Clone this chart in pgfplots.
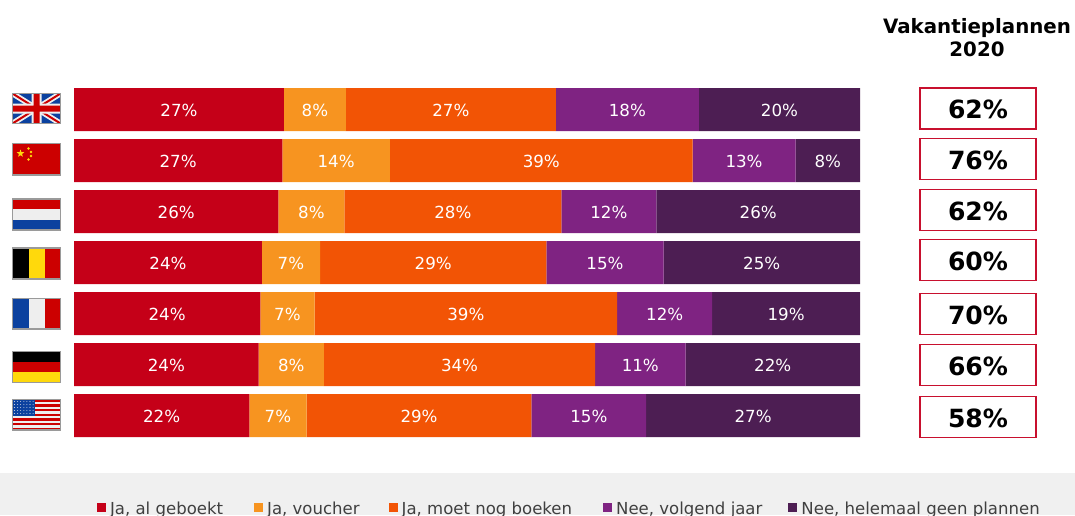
\documentclass[border=0pt]{standalone}
\usepackage{pgfplots}
\usepackage{pgfplotstable}
\pgfplotsset{compat=1.18}
\usepackage{fontspec}
\setmainfont{DejaVu Sans}
\usetikzlibrary{shapes.geometric}
\definecolor{cA}{HTML}{C50018}
\definecolor{cB}{HTML}{F79420}
\definecolor{cC}{HTML}{F25405}
\definecolor{cD}{HTML}{7F2382}
\definecolor{cE}{HTML}{4D1E53}
\definecolor{band}{HTML}{F0F0F0}
\definecolor{flagred}{HTML}{CC0000}
\definecolor{flagblue}{HTML}{0B419F}
\definecolor{flaggrey}{HTML}{9A9A9A}
\definecolor{flagwhite}{HTML}{EEEEEE}
\definecolor{flagyellow}{HTML}{FFD90C}
\definecolor{boxred}{HTML}{C8102E}
\pgfplotstableread{
y v
6 26.7
5 26.5
4 26.0
3 23.9
2 23.7
1 23.5
0 22.3
}\sA
\pgfplotstableread{
y v
6 7.9
5 13.7
4 8.4
3 7.4
2 6.9
1 8.3
0 7.3
}\sB
\pgfplotstableread{
y v
6 26.7
5 38.5
4 27.6
3 28.8
2 38.5
1 34.5
0 28.6
}\sC
\pgfplotstableread{
y v
6 18.2
5 13.1
4 12.1
3 14.9
2 12.1
1 11.5
0 14.6
}\sD
\pgfplotstableread{
y v
6 20.5
5 8.2
4 25.9
3 25.0
2 18.8
1 22.2
0 27.2
}\sE
\pgfplotstableread{
c y l
13.35 6 27
30.65 6 8
47.95 6 27
70.40 6 18
89.75 6 20
13.25 5 27
33.35 5 14
59.45 5 39
85.25 5 13
95.90 5 8
13.00 4 26
30.20 4 8
48.20 4 28
68.05 4 12
87.05 4 26
11.95 3 24
27.60 3 7
45.70 3 29
67.55 3 15
87.50 3 25
11.85 2 24
27.15 2 7
49.85 2 39
75.15 2 12
90.60 2 19
11.75 1 24
27.65 1 8
49.05 1 34
72.05 1 11
88.90 1 22
11.15 0 22
25.95 0 7
43.90 0 29
65.50 0 15
86.40 0 27
}\sLab
\pgfplotstableread{
x y l
978 108.5 62
978 159 76
978 210 62
978 260 60
978 314 70
978 365 66
978 417 58
}\sBox
\begin{document}
\begin{tikzpicture}
\useasboundingbox (0,0) rectangle (806.25pt,-386.25pt);
\clip (0,0) rectangle (806.25pt,-386.25pt);
\begin{scope}[x=0.75pt,y=-0.75pt]
\fill[band] (0,473) rectangle (1075,515);
% title
\node[align=center,font=\fontsize{14.85}{17.3}\selectfont\bfseries,black,inner sep=0pt] at (977,38) {Vakantieplannen\\2020};
% UK
\begin{scope}
\clip (12.5,93.5) rectangle (60.5,123.5);
\fill[flagblue] (12.5,93.5) rectangle (60.5,123.5);
\draw[flagwhite,line width=4.2pt] (12.5,93.5)--(60.5,123.5) (12.5,123.5)--(60.5,93.5);
\draw[flagred,line width=1.5pt] (12.5,93.5)--(60.5,123.5) (12.5,123.5)--(60.5,93.5);
\fill[flagwhite] (31.5,93.5) rectangle (41.5,123.5) (12.5,103.5) rectangle (60.5,113.5);
\fill[flagred] (33.5,93.5) rectangle (39.5,123.5) (12.5,105.5) rectangle (60.5,111.5);
\end{scope}
\draw[flaggrey,line width=0.8pt] (12.5,93.5) rectangle (60.5,123.5);
% China
\fill[flagred] (12.5,143.5) rectangle (60.5,175);
\node[star,star points=5,star point ratio=2.4,fill=flagyellow,inner sep=0pt,minimum size=6pt] at (20.5,153.5) {};
\foreach \a/\b in {28.5/148.5,31/152,31/156,28.5/159.5}
  \fill[flagyellow] (\a,\b) circle (1pt);
\draw[flaggrey,line width=0.8pt] (12.5,143.5) rectangle (60.5,175);
% NL
\fill[flagred] (12.5,199) rectangle (60.5,209.3);
\fill[flagwhite] (12.5,209.3) rectangle (60.5,219.6);
\fill[flagblue] (12.5,219.6) rectangle (60.5,230);
\draw[flaggrey,line width=0.8pt] (12.5,199) rectangle (60.5,230);
% BE
\fill[black] (12.5,248) rectangle (28.5,279);
\fill[flagyellow] (28.5,248) rectangle (44.5,279);
\fill[flagred] (44.5,248) rectangle (60.5,279);
\draw[flaggrey,line width=0.8pt] (12.5,248) rectangle (60.5,279);
% FR
\fill[flagblue] (12.5,298.5) rectangle (28.5,329);
\fill[flagwhite] (28.5,298.5) rectangle (44.5,329);
\fill[flagred] (44.5,298.5) rectangle (60.5,329);
\draw[flaggrey,line width=0.8pt] (12.5,298.5) rectangle (60.5,329);
% DE
\fill[black] (12.5,351.5) rectangle (60.5,362);
\fill[flagred] (12.5,362) rectangle (60.5,372);
\fill[flagyellow] (12.5,372) rectangle (60.5,382.5);
\draw[flaggrey,line width=0.8pt] (12.5,351.5) rectangle (60.5,382.5);
% US
\fill[flagwhite] (12.5,399.5) rectangle (60.5,430);
\foreach \i in {0,2,4,6,8,10,12}
  \fill[flagred] (12.5,399.5+\i*2.346) rectangle (60.5,399.5+\i*2.346+2.346);
\fill[flagblue] (12.5,399.5) rectangle (34.5,415.5);
\foreach \i in {0,...,6} \foreach \j in {0,...,4}
  \fill[flagwhite!80!flagblue] (14.5+\i*3.1,401.5+\j*3) circle (0.4pt);
\draw[flaggrey,line width=0.8pt] (12.5,399.5) rectangle (60.5,430);
\end{scope}
\begin{axis}[
  at={(55.5pt,-330.75pt)},anchor=south west,
  scale only axis,width=589.5pt,height=267.75pt,
  xbar stacked,bar width=32.25pt,
  xmin=0,xmax=100,ymin=-0.5,ymax=6.5,
  hide axis,clip=false,
  legend image code/.code={\fill[#1] (0pt,-2.3pt) rectangle (6.8pt,4.5pt);},
  legend style={at={(0.0293,-0.1916)},anchor=west,draw=none,fill=none,inner sep=0pt,outer sep=0pt,
    nodes={inner sep=0pt,text=black!75,font=\fontsize{12.4}{14}\selectfont},
    /tikz/column 1/.style={column sep=3pt},
    /tikz/column 3/.style={column sep=3pt},
    /tikz/column 5/.style={column sep=3pt},
    /tikz/column 7/.style={column sep=3pt},
    /tikz/column 9/.style={column sep=3pt},
    /tikz/column 2/.style={column sep=23.25pt},
    /tikz/column 4/.style={column sep=21.75pt},
    /tikz/column 6/.style={column sep=23.25pt},
    /tikz/column 8/.style={column sep=19.5pt},
  },
  legend columns=5,legend cell align=left,
]
\addplot[fill=cA,draw=none] table[x=v,y=y]{\sA};
\addplot[fill=cB,draw=none] table[x=v,y=y]{\sB};
\addplot[fill=cC,draw=none] table[x=v,y=y]{\sC};
\addplot[fill=cD,draw=none] table[x=v,y=y]{\sD};
\addplot[fill=cE,draw=none] table[x=v,y=y]{\sE};
\legend{{Ja, al geboekt},{Ja, voucher},{Ja, moet nog boeken},{Nee, volgend jaar},{Nee, helemaal geen plannen}}
\end{axis}
\begin{axis}[
  at={(55.5pt,-330.75pt)},anchor=south west,
  scale only axis,width=589.5pt,height=267.75pt,
  xmin=0,xmax=100,ymin=-0.5,ymax=6.5,
  hide axis,clip=false,
  point meta=explicit symbolic,
]
\addplot[only marks,mark=none,
  nodes near coords={\pgfplotspointmeta\%},
  every node near coord/.append style={anchor=center,text=white,inner sep=0pt,yshift=-0.5pt,font=\fontsize{12.5}{14}\selectfont},
] table[x=c,y=y,meta=l]{\sLab};
\end{axis}
\begin{axis}[
  at={(0pt,-386.25pt)},anchor=south west,
  scale only axis,width=806.25pt,height=386.25pt,
  xmin=0,xmax=1075,ymin=0,ymax=515,y dir=reverse,
  hide axis,clip=false,
  point meta=explicit symbolic,
]
\addplot[only marks,mark=none,
  nodes near coords={\pgfplotspointmeta\%},
  every node near coord/.append style={anchor=center,draw=boxred,line width=1.2pt,fill=white,text=black,
    minimum width=87pt,minimum height=30.5pt,inner sep=0pt,text height=15pt,text depth=0pt,
    font=\fontsize{18.8}{20}\selectfont\bfseries},
] table[x=x,y=y,meta=l]{\sBox};
\end{axis}
\end{tikzpicture}
\end{document}
